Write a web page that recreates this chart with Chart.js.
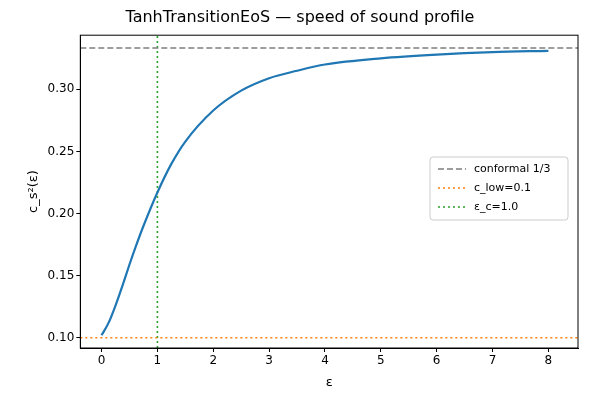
<!DOCTYPE html>
<html><head><meta charset="utf-8">
<script src="https://cdn.jsdelivr.net/npm/chart.js@4"></script>
<style>body{margin:0;background:#fff}#wrap{width:589px;height:408px}</style>
</head><body><div id="wrap"><canvas id="c"></canvas></div>
<script>
// values
const eps = [0, 0.125, 0.25, 0.375, 0.5, 0.625, 0.75, 1, 1.25, 1.5, 2, 2.5, 3, 3.5, 4, 5, 6, 7, 8];
const cs2 = [0.102, 0.112, 0.126, 0.142, 0.159, 0.175, 0.190, 0.217, 0.240, 0.258, 0.283, 0.299, 0.309, 0.315, 0.320, 0.325, 0.328, 0.330, 0.331];
const conformal = 1 / 3;
const cLow = 0.1;
const epsC = 1.0;
const xTicks = [0, 1, 2, 3, 4, 5, 6, 7, 8];
const yTicks = [0.10, 0.15, 0.20, 0.25, 0.30];
const xMin = -0.38, xMax = 8.53, yMin = 0.0918, yMax = 0.3436;

const font = "'DejaVu Sans', sans-serif";
Chart.defaults.font.family = font;
Chart.defaults.color = '#000';

const legendItems = [
  { label: 'conformal 1/3', color: '#7f7f7f', dash: [6, 3] },
  { label: 'c_low=0.1', color: '#ff7f0e', dash: [2, 3] },
  { label: 'ε_c=1.0', color: '#2ca02c', dash: [2, 3] }
];

const boxLegend = {
  id: 'boxLegend',
  afterDraw(chart) {
    const ctx = chart.ctx;
    const x = 430, y = 157, w = 138, h = 63;
    ctx.save();
    ctx.fillStyle = 'rgba(255,255,255,0.8)';
    ctx.strokeStyle = '#ccc';
    ctx.lineWidth = 1;
    ctx.beginPath(); ctx.roundRect(x, y, w, h, 3); ctx.fill(); ctx.stroke();
    ctx.font = '11px ' + font;
    ctx.textBaseline = 'middle';
    legendItems.forEach((it, i) => {
      const yy = y + 12 + i * 19;
      ctx.strokeStyle = it.color; ctx.lineWidth = 1.5; ctx.setLineDash(it.dash);
      ctx.beginPath(); ctx.moveTo(x + 8, yy); ctx.lineTo(x + 36, yy); ctx.stroke();
      ctx.setLineDash([]);
      ctx.fillStyle = '#000';
      ctx.fillText(it.label, x + 44, yy);
    });
    ctx.restore();
  }
};

new Chart(document.getElementById('c'), {
  type: 'scatter',
  data: {
    datasets: [
      { data: eps.map((e, i) => ({ x: e, y: cs2[i] })), showLine: true, borderColor: '#1f77b4',
        borderWidth: 2.2, pointRadius: 0, cubicInterpolationMode: 'monotone' },
      { data: [{ x: xMin, y: conformal }, { x: xMax, y: conformal }], showLine: true, borderColor: '#7f7f7f',
        borderWidth: 1.6, borderDash: [6, 3], pointRadius: 0 },
      { data: [{ x: xMin, y: cLow }, { x: xMax, y: cLow }], showLine: true, borderColor: '#ff7f0e',
        borderWidth: 1.6, borderDash: [2, 3], pointRadius: 0 },
      { data: [{ x: epsC, y: yMin }, { x: epsC, y: yMax }], showLine: true, borderColor: '#2ca02c',
        borderWidth: 1.6, borderDash: [2, 3], pointRadius: 0 }
    ]
  },
  options: {
    responsive: true, maintainAspectRatio: false, animation: false,
    layout: { padding: { left: 22, right: 11, top: 0, bottom: 14 } },
    plugins: {
      legend: { display: false }, tooltip: { enabled: false },
      title: { display: true, text: 'TanhTransitionEoS — speed of sound profile',
        font: { size: 16, weight: 'normal' }, padding: { top: 8, bottom: 8 } }
    },
    scales: {
      x: { type: 'linear', min: xMin, max: xMax,
        afterBuildTicks: s => { s.ticks = xTicks.map(v => ({ value: v })); },
        ticks: { font: { size: 12 }, callback: v => v, padding: 2 },
        grid: { display: true, drawOnChartArea: false, color: '#000', tickLength: 4 },
        border: { color: '#000' },
        title: { display: true, text: 'ε', font: { size: 13 } } },
      y: { min: yMin, max: yMax,
        afterBuildTicks: s => { s.ticks = yTicks.map(v => ({ value: v })); },
        ticks: { font: { size: 12 }, callback: v => v.toFixed(2), padding: 2 },
        grid: { display: true, drawOnChartArea: false, color: '#000', tickLength: 4 },
        border: { color: '#000' },
        title: { display: true, text: 'c_s²(ε)', font: { size: 13 } } }
    }
  },
  plugins: [boxLegend, {
    id: 'frame',
    afterDraw(chart) {
      const a = chart.chartArea, ctx = chart.ctx;
      ctx.save(); ctx.strokeStyle = '#000'; ctx.lineWidth = 1;
      ctx.strokeRect(a.left, a.top, a.right - a.left, a.bottom - a.top);
      ctx.restore();
    }
  }]
});
</script></body></html>
